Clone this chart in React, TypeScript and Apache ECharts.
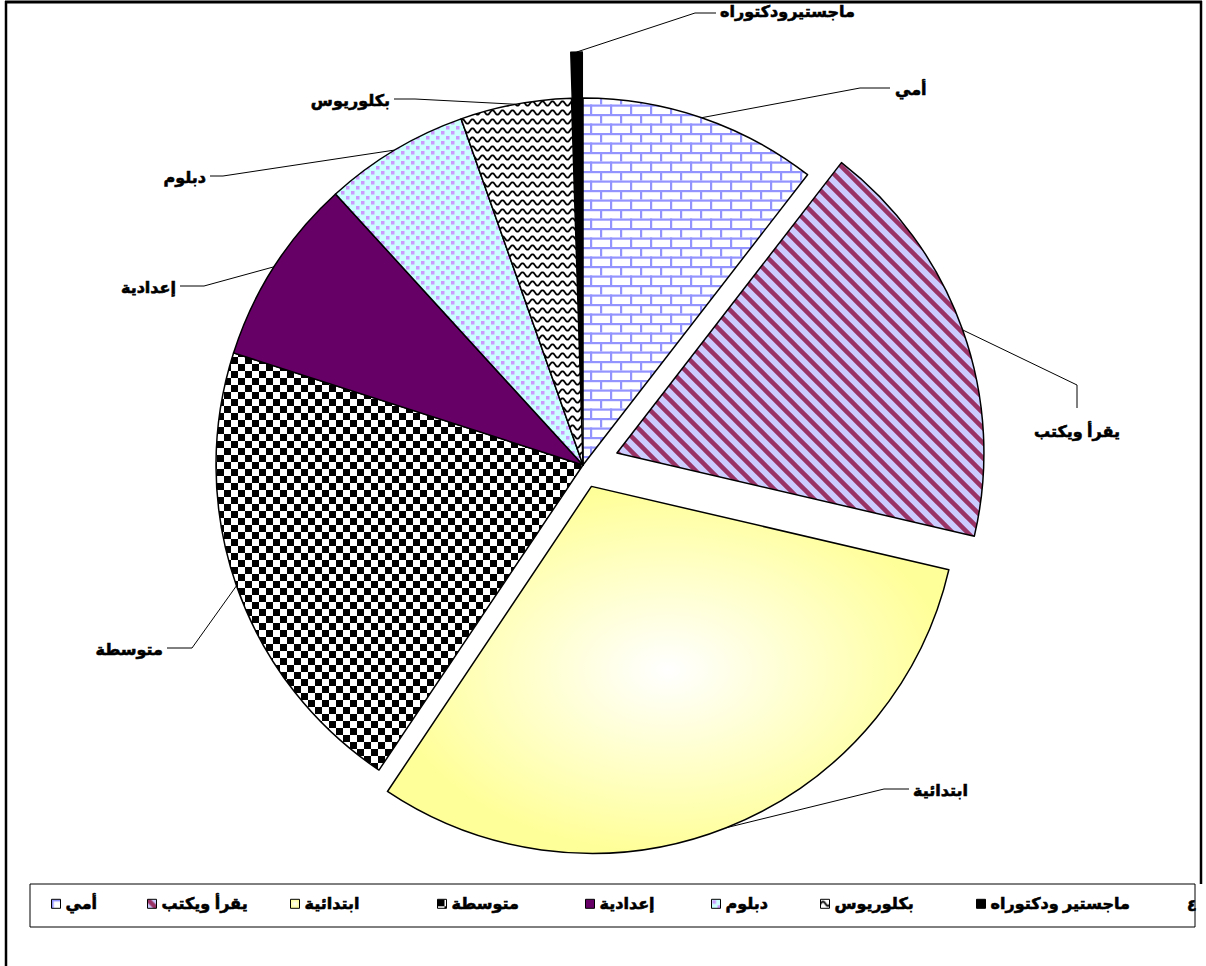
import React, { useEffect, useRef } from 'react';
import * as echarts from 'echarts';

// ---------- data ----------
const CATEGORIES = ['أمي', 'يقرأ ويكتب', 'ابتدائية', 'متوسطة', 'إعدادية', 'دبلوم', 'بكلوريوس', 'ماجستير ودكتوراه'];
const VALUES = [10.5, 18.2, 30.8, 20.6, 8.3, 6.4, 4.9, 0.5];
const SLICE_LABELS = ['أمي', 'يقرأ ويكتب', 'ابتدائية', 'متوسطة', 'إعدادية', 'دبلوم', 'بكلوريوس', 'ماجستيرودكتوراه'];
const LEGEND_TAIL = '٤';

// ---------- layout ----------
const CX = 583, CY = 465, R = 367;
const EXPLODE = [0, 36, 23, 0, 0, 0, 0, 46];
const FONT = 'Arial, "DejaVu Sans", sans-serif';
const FONT_SIZE = 16;
const LABEL_LAYOUT: { bend: number[]; end: number[]; text: number[]; align: string }[] = [
  { bend: [860, 88], end: [890, 88], text: [895, 89], align: 'left' },
  { bend: [1077, 385], end: [1077, 408], text: [1077, 431], align: 'center' },
  { bend: [884, 789], end: [909, 789], text: [913, 790], align: 'left' },
  { bend: [192, 648], end: [167, 648], text: [163, 649], align: 'right' },
  { bend: [204, 286], end: [180, 286], text: [176, 287], align: 'right' },
  { bend: [223, 176], end: [210, 176], text: [206, 177], align: 'right' },
  { bend: [415, 99], end: [394, 99], text: [390, 100], align: 'right' },
  { bend: [695, 13], end: [716, 13], text: [720, 11], align: 'left' },
];
const LEGEND_ICON_X = [51, 147, 290, 437, 585, 711, 820, 976];
const LEGEND_BOX = { x: 30, y: 884, w: 1165, h: 43 };

function makeCanvas(w: number, h: number, draw: (ctx: CanvasRenderingContext2D) => void) {
  const c = document.createElement('canvas');
  c.width = w;
  c.height = h;
  const ctx = c.getContext('2d') as CanvasRenderingContext2D;
  draw(ctx);
  return c;
}
function pattern(c: HTMLCanvasElement) {
  return { image: c, repeat: 'repeat', imageWidth: c.width, imageHeight: c.height } as any;
}

function buildFills() {
  const brick = makeCanvas(20, 19, (ctx) => {
    ctx.fillStyle = '#ffffff';
    ctx.fillRect(0, 0, 20, 19);
    ctx.fillStyle = '#9494ff';
    ctx.fillRect(0, 0, 20, 2.2);
    ctx.fillRect(0, 0, 2.2, 9.5);
    ctx.fillRect(0, 9.5, 20, 2.2);
    ctx.fillRect(10, 9.5, 2.2, 9.5);
  });
  const stripes = makeCanvas(15, 15, (ctx) => {
    ctx.fillStyle = '#ccccff';
    ctx.fillRect(0, 0, 15, 15);
    ctx.strokeStyle = '#993366';
    ctx.lineWidth = 4.5;
    for (const o of [-15, 0, 15]) {
      ctx.beginPath();
      ctx.moveTo(o - 2, -2);
      ctx.lineTo(o + 17, 17);
      ctx.stroke();
    }
  });
  const checker = makeCanvas(14, 14, (ctx) => {
    ctx.fillStyle = '#ffffff';
    ctx.fillRect(0, 0, 14, 14);
    ctx.fillStyle = '#000000';
    ctx.fillRect(0, 0, 7, 7);
    ctx.fillRect(7, 7, 7, 7);
  });
  const dots = makeCanvas(10, 10, (ctx) => {
    ctx.fillStyle = '#ccffff';
    ctx.fillRect(0, 0, 10, 10);
    ctx.fillStyle = '#cc99ff';
    ctx.fillRect(1, 1, 3.5, 3.5);
    ctx.fillRect(6, 6, 3.5, 3.5);
  });
  const wave = makeCanvas(10, 9, (ctx) => {
    ctx.fillStyle = '#ffffff';
    ctx.fillRect(0, 0, 10, 9);
    ctx.strokeStyle = '#000000';
    ctx.lineWidth = 1.8;
    ctx.beginPath();
    for (let x = -1; x <= 11; x += 0.5) {
      const y = 4.5 - 2.2 * Math.sin((2 * Math.PI * x) / 10);
      if (x === -1) ctx.moveTo(x, y);
      else ctx.lineTo(x, y);
    }
    ctx.stroke();
  });
  return [
    pattern(brick),
    pattern(stripes),
    {
      type: 'radial', x: 0.5, y: 0.5, r: 0.5,
      colorStops: [
        { offset: 0, color: '#ffffff' },
        { offset: 1, color: '#ffff99' },
      ],
    },
    pattern(checker),
    '#660066',
    pattern(dots),
    pattern(wave),
    '#000000',
  ];
}

export default function App() {
  const ref = useRef<HTMLDivElement>(null);
  useEffect(() => {
    if (!ref.current) return;
    const chart = echarts.init(ref.current, null, { renderer: 'svg' });
    const fills = buildFills();
    const total = VALUES.reduce((a, b) => a + b, 0);
    const midAngle = (i: number) => {
      let cum = 0;
      for (let k = 0; k < i; k++) cum += VALUES[k];
      return ((cum + VALUES[i] / 2) / total) * Math.PI * 2;
    };

    const groups: number[][] = [CATEGORIES.map((_, i) => i).filter((i) => EXPLODE[i] === 0)];
    CATEGORIES.forEach((_, i) => { if (EXPLODE[i] > 0) groups.push([i]); });

    const labelLayout = (params: any) => {
      const L = LABEL_LAYOUT[params.dataIndex];
      const pts = params.labelLinePoints;
      const p0 = pts && pts[0] ? pts[0] : L.bend;
      return {
        x: L.text[0], y: L.text[1], align: L.align, verticalAlign: 'middle',
        labelLinePoints: [p0, L.bend, L.end],
      };
    };

    const textBase = {
      color: '#000', fontSize: FONT_SIZE, fontWeight: 'bold', fontFamily: FONT,
      textBorderColor: '#000', textBorderWidth: 0.6,
    };

    const series = groups.map((g) => {
      let cx = CX, cy = CY;
      if (g.length === 1 && EXPLODE[g[0]] > 0) {
        const a = midAngle(g[0]);
        cx = CX + EXPLODE[g[0]] * Math.sin(a);
        cy = CY - EXPLODE[g[0]] * Math.cos(a);
      }
      return {
        type: 'pie',
        radius: R,
        center: [cx, cy],
        startAngle: 90,
        clockwise: true,
        avoidLabelOverlap: false,
        silent: true,
        emphasis: { disabled: true },
        label: { show: true, position: 'outside', ...textBase },
        labelLine: { show: true, length: 10, length2: 10, lineStyle: { color: '#000', width: 1 } },
        labelLayout,
        itemStyle: { borderColor: '#000', borderWidth: 1.5 },
        data: CATEGORIES.map((name, i) =>
          g.includes(i)
            ? { name, value: VALUES[i], itemStyle: { color: fills[i] }, label: { formatter: SLICE_LABELS[i] } }
            : {
                name, value: VALUES[i],
                itemStyle: { color: 'rgba(0,0,0,0)', borderWidth: 0 },
                label: { show: false }, labelLine: { show: false },
              }
        ),
      };
    });

    const legendCenterY = LEGEND_BOX.y + LEGEND_BOX.h / 2;
    const legends = CATEGORIES.map((name, i) => ({
      left: LEGEND_ICON_X[i],
      top: legendCenterY - 10,
      orient: 'horizontal',
      itemWidth: 9,
      itemHeight: 9,
      padding: 0,
      selectedMode: false,
      textStyle: { ...textBase },
      data: [{ name, icon: 'rect', itemStyle: { color: fills[i], borderColor: '#000', borderWidth: 1 } }],
    }));

    chart.setOption({
      animation: false,
      backgroundColor: '#ffffff',
      legend: legends,
      graphic: [
        {
          type: 'rect', z: 90,
          shape: { x: LEGEND_BOX.x, y: LEGEND_BOX.y, width: LEGEND_BOX.w, height: LEGEND_BOX.h },
          style: { fill: 'none', stroke: '#000', lineWidth: 1 },
        },
        { type: 'line', z: 100, shape: { x1: 5, y1: 2, x2: 1202, y2: 2 }, style: { stroke: '#000', lineWidth: 3 } },
        { type: 'line', z: 100, shape: { x1: 6, y1: 1, x2: 6, y2: 966 }, style: { stroke: '#000', lineWidth: 2.5 } },
        { type: 'line', z: 100, shape: { x1: 1201, y1: 1, x2: 1201, y2: 884 }, style: { stroke: '#000', lineWidth: 2.5 } },
        {
          type: 'text', z: 100, x: 1187, y: legendCenterY,
          style: {
            text: LEGEND_TAIL, fontSize: FONT_SIZE, fontWeight: 'bold', fill: '#000', fontFamily: FONT,
            verticalAlign: 'middle', stroke: '#000', lineWidth: 0.6,
          },
        },
      ],
      series,
    });
    return () => chart.dispose();
  }, []);
  return (
    <div
      ref={ref}
      style={{ position: 'fixed', left: 0, top: 0, width: 1206, height: 966, background: '#fff' }}
    />
  );
}
